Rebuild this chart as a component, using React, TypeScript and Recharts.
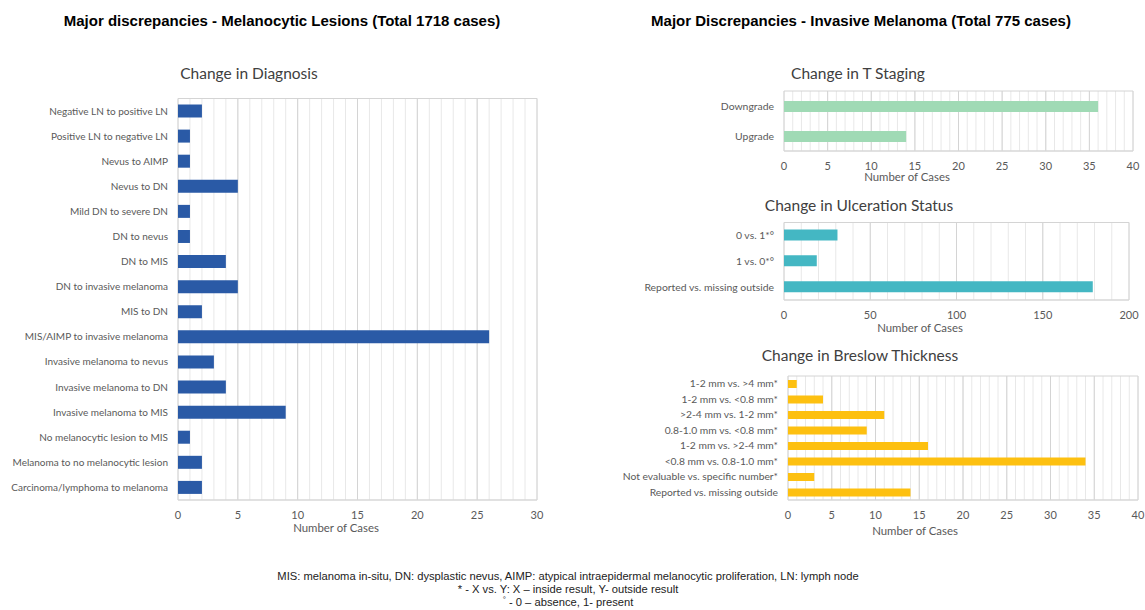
import React from "react";
import {
  BarChart,
  Bar,
  XAxis,
  YAxis,
  CartesianGrid,
} from "recharts";

const diagnosisLabels = [
  "Negative LN to positive LN",
  "Positive LN to negative LN",
  "Nevus to AIMP",
  "Nevus to DN",
  "Mild DN to severe DN",
  "DN to nevus",
  "DN to MIS",
  "DN to invasive melanoma",
  "MIS to DN",
  "MIS/AIMP to invasive melanoma",
  "Invasive melanoma to nevus",
  "Invasive melanoma to DN",
  "Invasive melanoma to MIS",
  "No melanocytic lesion to MIS",
  "Melanoma to no melanocytic lesion",
  "Carcinoma/lymphoma to melanoma",
];
const diagnosisCases = [2, 1, 1, 5, 1, 1, 4, 5, 2, 26, 3, 4, 9, 1, 2, 2];
const diagnosisTicks = [0, 5, 10, 15, 20, 25, 30];

const tStageLabels = ["Downgrade", "Upgrade"];
const tStageCases = [36, 14];
const tStageTicks = [0, 5, 10, 15, 20, 25, 30, 35, 40];

const ulcerLabels = ["0 vs. 1*°", "1 vs. 0*°", "Reported vs. missing outside"];
const ulcerCases = [31, 19, 179];
const ulcerTicks = [0, 50, 100, 150, 200];

const breslowLabels = [
  "1-2 mm vs. >4 mm*",
  "1-2 mm vs. <0.8 mm*",
  ">2-4 mm vs. 1-2 mm*",
  "0.8-1.0 mm vs. <0.8 mm*",
  "1-2 mm vs. >2-4 mm*",
  "<0.8 mm vs. 0.8-1.0 mm*",
  "Not evaluable vs. specific number*",
  "Reported vs. missing outside",
];
const breslowCases = [1, 4, 11, 9, 16, 34, 3, 14];
const breslowTicks = [0, 5, 10, 15, 20, 25, 30, 35, 40];

const FONT = "Lato, 'Open Sans', sans-serif";
const TICK = "#595959";

// minor gridlines between the labelled ticks
const minorTicks = (major: number[], step: number) => {
  const out: number[] = [];
  const max = major[major.length - 1];
  for (let v = 0; v <= max + 1e-9; v += step) out.push(Math.round(v * 100) / 100);
  return out;
};

// plain svg text so long category names don't get wrapped
const CategoryTick = ({ x, y, payload, fontSize }: any) => (
  <text x={x} y={y} dy="0.35em" textAnchor="end" fontSize={fontSize} fill={TICK} fontFamily={FONT}>
    {payload.value}
  </text>
);

interface PanelProps {
  labels: string[];
  values: number[];
  ticks: number[];
  minorStep: number;
  color: string;
  left: number;
  top: number;
  width: number;
  height: number;
  margin: { top: number; right: number; bottom: number; left: number };
  yWidth: number;
  barSize: number;
  fontSize: number;
}

function Panel(p: PanelProps) {
  const data = p.labels.map((name, i) => ({ name, value: p.values[i] }));
  const minors = minorTicks(p.ticks, p.minorStep);
  const max = p.ticks[p.ticks.length - 1];
  return (
    <div style={{ position: "absolute", left: p.left, top: p.top }}>
      <BarChart
        width={p.width}
        height={p.height}
        data={data}
        layout="vertical"
        margin={p.margin}
        barCategoryGap={0}
      >
        <CartesianGrid stroke="#e8e8e8" vertical horizontal={false} />
        <CartesianGrid
          stroke="#d4d4d4"
          vertical
          horizontal
          verticalCoordinatesGenerator={({ offset }: any) =>
            p.ticks.map((t) => offset.left + (t / max) * offset.width)
          }
          horizontalCoordinatesGenerator={({ offset }: any) => [offset.top, offset.top + offset.height]}
        />
        <XAxis
          type="number"
          domain={[0, max]}
          ticks={minors}
          interval={0}
          height={20}
          tickFormatter={(v: number) => (p.ticks.includes(v) ? String(v) : "")}
          tick={{ fontSize: 11, fill: TICK, fontFamily: FONT }}
          tickLine={false}
          axisLine={{ stroke: "#d9d9d9" }}
          tickMargin={5}
        />
        <YAxis
          type="category"
          dataKey="name"
          width={p.yWidth}
          interval={0}
          tick={<CategoryTick fontSize={p.fontSize} />}
          tickLine={false}
          axisLine={false}
          tickMargin={4}
        />
        <Bar dataKey="value" fill={p.color} barSize={p.barSize} isAnimationActive={false} />
      </BarChart>
    </div>
  );
}

function Centered({ cx, cy, children, style }: { cx: number; cy: number; children: React.ReactNode; style?: React.CSSProperties }) {
  return (
    <div
      style={{
        position: "absolute",
        left: cx,
        top: cy,
        whiteSpace: "nowrap",
        transform: "translate(-50%, -50%)",
        lineHeight: 1,
        ...style,
      }}
    >
      {children}
    </div>
  );
}

export default function App() {
  const mainTitle: React.CSSProperties = { fontFamily: "'Liberation Sans', Arial, sans-serif", fontWeight: 700, fontSize: 15, color: "#000" };
  const subTitle: React.CSSProperties = { fontFamily: FONT, fontSize: 15.5, color: "#404040" };
  const axisTitle: React.CSSProperties = { fontFamily: FONT, fontSize: 11.4, color: TICK };
  const note: React.CSSProperties = { fontFamily: "'Liberation Sans', Arial, sans-serif", fontSize: 11.2, color: "#222" };

  return (
    <div style={{ position: "absolute", left: 0, top: 0, width: 1145, height: 610, background: "#fff", overflow: "hidden" }}>
      <Centered cx={282} cy={20} style={mainTitle}>Major discrepancies - Melanocytic Lesions (Total 1718 cases)</Centered>
      <Centered cx={861} cy={20} style={mainTitle}>Major Discrepancies - Invasive Melanoma (Total 775 cases)</Centered>

      <Centered cx={249} cy={74} style={subTitle}>Change in Diagnosis</Centered>
      <Panel
        labels={diagnosisLabels}
        values={diagnosisCases}
        ticks={diagnosisTicks}
        minorStep={1}
        color="#2a5aa6"
        left={0}
        top={90}
        width={560}
        height={430}
        margin={{ top: 8.5, right: 23, bottom: 0, left: 8 }}
        yWidth={170}
        barSize={13}
        fontSize={10}
      />
      <Centered cx={336} cy={528} style={axisTitle}>Number of Cases</Centered>

      <Centered cx={858} cy={74} style={subTitle}>Change in T Staging</Centered>
      <Panel
        labels={tStageLabels}
        values={tStageCases}
        ticks={tStageTicks}
        minorStep={1}
        color="#a0dab5"
        left={600}
        top={84}
        width={545}
        height={87}
        margin={{ top: 7, right: 12, bottom: 0, left: 4 }}
        yWidth={180}
        barSize={11}
        fontSize={10.4}
      />
      <Centered cx={907} cy={177} style={axisTitle}>Number of Cases</Centered>

      <Centered cx={859} cy={206} style={subTitle}>Change in Ulceration Status</Centered>
      <Panel
        labels={ulcerLabels}
        values={ulcerCases}
        ticks={ulcerTicks}
        minorStep={10}
        color="#44b7c3"
        left={600}
        top={216}
        width={545}
        height={104}
        margin={{ top: 6.5, right: 16, bottom: 0, left: 4 }}
        yWidth={180}
        barSize={11}
        fontSize={10.4}
      />
      <Centered cx={920} cy={328} style={axisTitle}>Number of Cases</Centered>

      <Centered cx={860} cy={356} style={subTitle}>Change in Breslow Thickness</Centered>
      <Panel
        labels={breslowLabels}
        values={breslowCases}
        ticks={breslowTicks}
        minorStep={1}
        color="#fdc010"
        left={600}
        top={370}
        width={545}
        height={150}
        margin={{ top: 6, right: 7, bottom: 0, left: 8 }}
        yWidth={180}
        barSize={8}
        fontSize={10.3}
      />
      <Centered cx={915} cy={531} style={axisTitle}>Number of Cases</Centered>

      <Centered cx={568} cy={577} style={note}>
        MIS: melanoma in-situ, DN: dysplastic nevus, AIMP: atypical intraepidermal melanocytic proliferation, LN: lymph node
      </Centered>
      <Centered cx={568} cy={590} style={note}>* - X vs. Y: X – inside result, Y- outside result</Centered>
      <Centered cx={568} cy={603} style={note}>
        <span style={{ fontSize: 8, position: "relative", top: -4 }}>°</span> - 0 – absence, 1- present
      </Centered>
    </div>
  );
}
